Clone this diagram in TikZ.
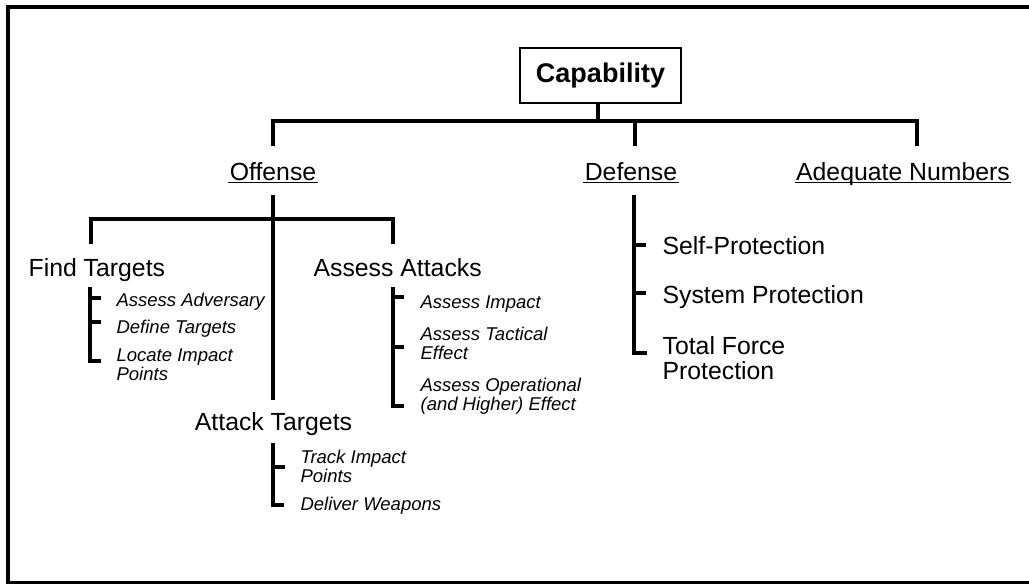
\documentclass[tikz,border=0pt]{standalone}
\usepackage{fontspec}
\setmainfont{Liberation Sans}
\begin{document}
\begin{tikzpicture}[x=1pt,y=-1pt,
  line width=3.2pt,
  frame/.style={line width=3.4pt},
  conn/.style={line width=3.2pt},
  uline/.style={line width=1.6pt},
  head/.style={font=\fontsize{24.8}{25}\selectfont, inner sep=0pt, anchor=base west, align=left},
  item/.style={font=\fontsize{18.5}{18.5}\selectfont\itshape, inner sep=0pt, anchor=base west, align=left},
  topbox/.style={draw, line width=2.4pt, minimum width=161pt, minimum height=55pt, inner sep=0pt,
    font=\fontsize{27}{28}\selectfont\bfseries}
]
\useasboundingbox (0,0) rectangle (1029,584);
\draw[frame] (1029,7) -- (8,7) -- (8,582.3) -- (1029,582.3);

% root
\node[topbox] (cap) at (600.5,75.5) {Capability};

% level 1
\node[head, anchor=base] (off) at (273,180) {Offense};
\node[head, anchor=base] (def) at (631,180) {Defense};
\node[head, anchor=base] (adq) at (903,180) {Adequate Numbers};
\foreach \n in {off,def,adq}
  \draw[uline] ([yshift=-2.5pt]\n.base west) -- ([yshift=-2.5pt]\n.base east);

\coordinate (jroot) at (598,121);
\coordinate (offtop) at (273,146);
\coordinate (deftop) at (635,146);
\coordinate (adqtop) at (917,146);
\draw[conn] (cap.south -| jroot) -- (jroot);
\draw[conn] (offtop) -- (273,121) -- (917,121) -- (adqtop);
\draw[conn] (635,121) -- (deftop);

% offense children
\node[head] (find) at (27,276) {Find Targets};
\node[head] (assess) at (312,276) {Assess Attacks};
\node[head, anchor=base] (attack) at (273.5,430) {Attack Targets};

\coordinate (offbot) at (273,195);
\coordinate (findtop) at (91,244);
\coordinate (asstop) at (393,244);
\draw[conn] (offbot) -- (273,400);
\draw[conn] (findtop) -- (91,219) -- (393,219) -- (asstop);

% find targets items
\node[item] (fa) at (115,306) {Assess Adversary};
\node[item] (fb) at (115,333) {Define Targets};
\node[item] (fc) at (115,380) {Locate Impact\\Points};
\draw[conn] (90,287) -- (90,361) -- (101,361);
\draw[conn] (90,298) -- (101,298);
\draw[conn] (90,322) -- (101,322);

% assess attacks items
\node[item] (aa) at (419,308) {Assess Impact};
\node[item] (ab) at (419,359) {Assess Tactical\\Effect};
\node[item] (ac) at (419,410) {Assess Operational\\(and Higher) Effect};
\draw[conn] (393,287) -- (393,406) -- (404,406);
\draw[conn] (393,297) -- (404,297);
\draw[conn] (393,347) -- (404,347);

% attack targets items
\node[item] (ta) at (299,482) {Track Impact\\Points};
\node[item] (tb) at (299,510) {Deliver Weapons};
\draw[conn] (273,443) -- (273,505) -- (284,505);
\draw[conn] (273,467) -- (285,467);

% defense items
\node[head] (da) at (661,254) {Self-Protection};
\node[head] (db) at (661,303) {System Protection};
\node[head] (dc) at (661,379) {Total Force\\Protection};
\draw[conn] (634,195) -- (634,353) -- (647,353);
\draw[conn] (634,245) -- (646,245);
\draw[conn] (634,293) -- (646,293);
\end{tikzpicture}
\end{document}
